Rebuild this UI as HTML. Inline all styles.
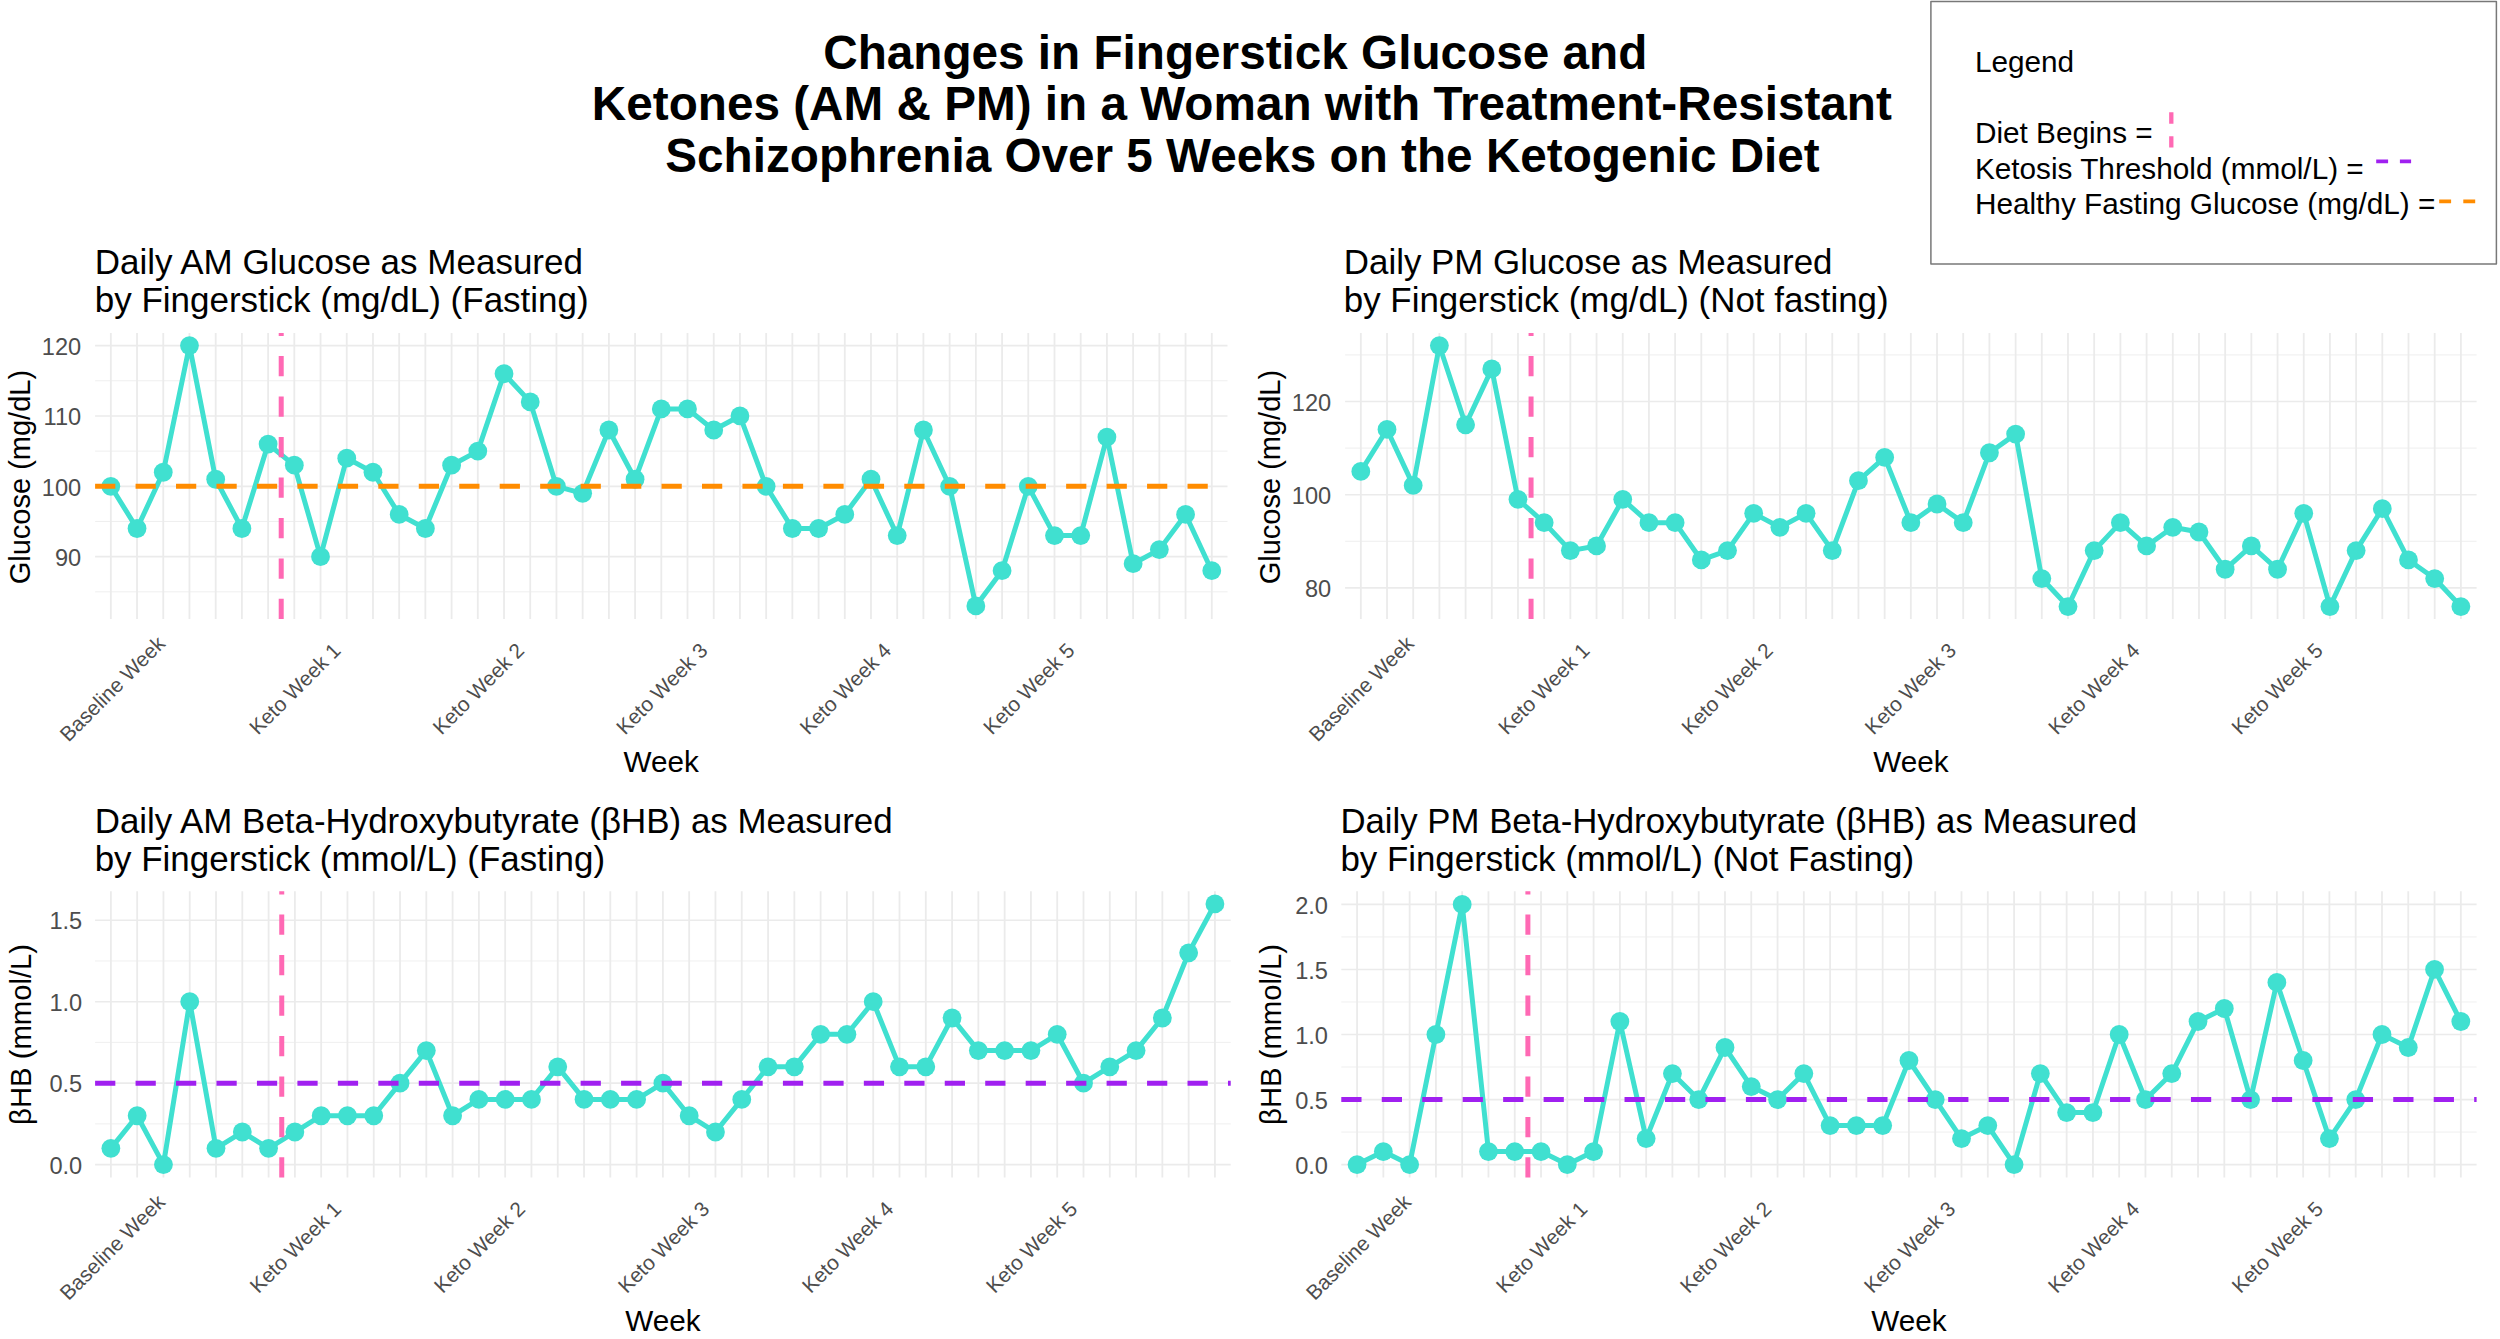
<!DOCTYPE html>
<html lang="en"><head><meta charset="utf-8">
<title>Changes in Fingerstick Glucose and Ketones on the Ketogenic Diet</title>
<style>html,body{margin:0;padding:0;background:#fff}svg{display:block}text{font-family:'Liberation Sans', Arial, Helvetica, sans-serif}</style>
</head><body>
<svg width="2500" height="1339" viewBox="0 0 2500 1339">
<rect width="2500" height="1339" fill="#fff"/>
<g font-size="47.7" font-weight="bold" text-anchor="middle">
<text x="1235.25" y="68.8">Changes in Fingerstick Glucose and</text>
<text x="1241.85" y="120.1">Ketones (AM &amp; PM) in a Woman with Treatment-Resistant</text>
<text x="1242.5" y="171.6">Schizophrenia Over 5 Weeks on the Ketogenic Diet</text>
</g>
<g>
<path d="M95.1 591.83H1227.5M95.1 521.48H1227.5M95.1 451.12H1227.5M95.1 380.77H1227.5" stroke="#EBEBEB" stroke-width="0.8" fill="none"/>
<path d="M110.83 333.1V619.1M137.04 333.1V619.1M163.25 333.1V619.1M189.47 333.1V619.1M215.68 333.1V619.1M241.89 333.1V619.1M268.11 333.1V619.1M294.32 333.1V619.1M320.53 333.1V619.1M346.74 333.1V619.1M372.96 333.1V619.1M399.17 333.1V619.1M425.38 333.1V619.1M451.6 333.1V619.1M477.81 333.1V619.1M504.02 333.1V619.1M530.24 333.1V619.1M556.45 333.1V619.1M582.66 333.1V619.1M608.87 333.1V619.1M635.09 333.1V619.1M661.3 333.1V619.1M687.51 333.1V619.1M713.73 333.1V619.1M739.94 333.1V619.1M766.15 333.1V619.1M792.36 333.1V619.1M818.58 333.1V619.1M844.79 333.1V619.1M871 333.1V619.1M897.22 333.1V619.1M923.43 333.1V619.1M949.64 333.1V619.1M975.86 333.1V619.1M1002.07 333.1V619.1M1028.28 333.1V619.1M1054.49 333.1V619.1M1080.71 333.1V619.1M1106.92 333.1V619.1M1133.13 333.1V619.1M1159.35 333.1V619.1M1185.56 333.1V619.1M1211.77 333.1V619.1" stroke="#EBEBEB" stroke-width="1.8" fill="none"/>
<path d="M95.1 556.65H1227.5M95.1 486.3H1227.5M95.1 415.95H1227.5M95.1 345.6H1227.5" stroke="#EBEBEB" stroke-width="1.6500000000000001" fill="none"/>
<polyline points="110.83,486.3 137.04,528.51 163.25,472.23 189.47,345.6 215.68,479.26 241.89,528.51 268.11,444.09 294.32,465.19 320.53,556.65 346.74,458.16 372.96,472.23 399.17,514.44 425.38,528.51 451.6,465.19 477.81,451.12 504.02,373.74 530.24,401.88 556.45,486.3 582.66,493.34 608.87,430.02 635.09,479.26 661.3,408.92 687.51,408.92 713.73,430.02 739.94,415.95 766.15,486.3 792.36,528.51 818.58,528.51 844.79,514.44 871,479.26 897.22,535.55 923.43,430.02 949.64,486.3 975.86,605.89 1002.07,570.72 1028.28,486.3 1054.49,535.55 1080.71,535.55 1106.92,437.06 1133.13,563.69 1159.35,549.62 1185.56,514.44 1211.77,570.72" fill="none" stroke="#40E0D0" stroke-width="5.0" stroke-linejoin="round" stroke-linecap="butt"/>
<g fill="#40E0D0">
<circle cx="110.83" cy="486.3" r="9.4"/>
<circle cx="137.04" cy="528.51" r="9.4"/>
<circle cx="163.25" cy="472.23" r="9.4"/>
<circle cx="189.47" cy="345.6" r="9.4"/>
<circle cx="215.68" cy="479.26" r="9.4"/>
<circle cx="241.89" cy="528.51" r="9.4"/>
<circle cx="268.11" cy="444.09" r="9.4"/>
<circle cx="294.32" cy="465.19" r="9.4"/>
<circle cx="320.53" cy="556.65" r="9.4"/>
<circle cx="346.74" cy="458.16" r="9.4"/>
<circle cx="372.96" cy="472.23" r="9.4"/>
<circle cx="399.17" cy="514.44" r="9.4"/>
<circle cx="425.38" cy="528.51" r="9.4"/>
<circle cx="451.6" cy="465.19" r="9.4"/>
<circle cx="477.81" cy="451.12" r="9.4"/>
<circle cx="504.02" cy="373.74" r="9.4"/>
<circle cx="530.24" cy="401.88" r="9.4"/>
<circle cx="556.45" cy="486.3" r="9.4"/>
<circle cx="582.66" cy="493.34" r="9.4"/>
<circle cx="608.87" cy="430.02" r="9.4"/>
<circle cx="635.09" cy="479.26" r="9.4"/>
<circle cx="661.3" cy="408.92" r="9.4"/>
<circle cx="687.51" cy="408.92" r="9.4"/>
<circle cx="713.73" cy="430.02" r="9.4"/>
<circle cx="739.94" cy="415.95" r="9.4"/>
<circle cx="766.15" cy="486.3" r="9.4"/>
<circle cx="792.36" cy="528.51" r="9.4"/>
<circle cx="818.58" cy="528.51" r="9.4"/>
<circle cx="844.79" cy="514.44" r="9.4"/>
<circle cx="871" cy="479.26" r="9.4"/>
<circle cx="897.22" cy="535.55" r="9.4"/>
<circle cx="923.43" cy="430.02" r="9.4"/>
<circle cx="949.64" cy="486.3" r="9.4"/>
<circle cx="975.86" cy="605.89" r="9.4"/>
<circle cx="1002.07" cy="570.72" r="9.4"/>
<circle cx="1028.28" cy="486.3" r="9.4"/>
<circle cx="1054.49" cy="535.55" r="9.4"/>
<circle cx="1080.71" cy="535.55" r="9.4"/>
<circle cx="1106.92" cy="437.06" r="9.4"/>
<circle cx="1133.13" cy="563.69" r="9.4"/>
<circle cx="1159.35" cy="549.62" r="9.4"/>
<circle cx="1185.56" cy="514.44" r="9.4"/>
<circle cx="1211.77" cy="570.72" r="9.4"/>
</g>
<path d="M95.1 486.3H1227.5" stroke="#FF8C00" stroke-width="5.0" stroke-dasharray="20.23 20.23" fill="none"/>
<path d="M281.21 619.1V333.1" stroke="#FF69B4" stroke-width="5.0" stroke-dasharray="20.23 20.23" fill="none"/>
<g font-size="23.6" fill="#4D4D4D" text-anchor="end">
<text x="81.2" y="565.85">90</text>
<text x="81.2" y="495.5">100</text>
<text x="81.2" y="425.15">110</text>
<text x="81.2" y="354.8">120</text>
</g>
<g font-size="20.8" fill="#4D4D4D" text-anchor="middle">
<text transform="translate(117.33 693.9) rotate(-45)">Baseline Week</text>
<text transform="translate(300.02 693.9) rotate(-45)">Keto Week 1</text>
<text transform="translate(483.51 693.9) rotate(-45)">Keto Week 2</text>
<text transform="translate(667 693.9) rotate(-45)">Keto Week 3</text>
<text transform="translate(850.49 693.9) rotate(-45)">Keto Week 4</text>
<text transform="translate(1033.98 693.9) rotate(-45)">Keto Week 5</text>
</g>
<text x="661.3" y="771.7" font-size="29.7" text-anchor="middle">Week</text>
<text transform="translate(30.1 477.1) rotate(-90)" font-size="29.0" text-anchor="middle">Glucose (mg/dL)</text>
<text x="94.7" y="273.9" font-size="35">Daily AM Glucose as Measured</text>
<text x="94.7" y="311.75" font-size="35">by Fingerstick (mg/dL) (Fasting)</text>
</g>
<g>
<path d="M1345.1 541.3H2476.6M1345.1 448.1H2476.6M1345.1 354.9H2476.6" stroke="#EBEBEB" stroke-width="0.8" fill="none"/>
<path d="M1360.82 333.1V619.1M1387.01 333.1V619.1M1413.2 333.1V619.1M1439.39 333.1V619.1M1465.58 333.1V619.1M1491.78 333.1V619.1M1517.97 333.1V619.1M1544.16 333.1V619.1M1570.35 333.1V619.1M1596.54 333.1V619.1M1622.74 333.1V619.1M1648.93 333.1V619.1M1675.12 333.1V619.1M1701.31 333.1V619.1M1727.51 333.1V619.1M1753.7 333.1V619.1M1779.89 333.1V619.1M1806.08 333.1V619.1M1832.27 333.1V619.1M1858.47 333.1V619.1M1884.66 333.1V619.1M1910.85 333.1V619.1M1937.04 333.1V619.1M1963.23 333.1V619.1M1989.43 333.1V619.1M2015.62 333.1V619.1M2041.81 333.1V619.1M2068 333.1V619.1M2094.19 333.1V619.1M2120.39 333.1V619.1M2146.58 333.1V619.1M2172.77 333.1V619.1M2198.96 333.1V619.1M2225.16 333.1V619.1M2251.35 333.1V619.1M2277.54 333.1V619.1M2303.73 333.1V619.1M2329.92 333.1V619.1M2356.12 333.1V619.1M2382.31 333.1V619.1M2408.5 333.1V619.1M2434.69 333.1V619.1M2460.88 333.1V619.1" stroke="#EBEBEB" stroke-width="1.8" fill="none"/>
<path d="M1345.1 587.9H2476.6M1345.1 494.7H2476.6M1345.1 401.5H2476.6" stroke="#EBEBEB" stroke-width="1.6500000000000001" fill="none"/>
<polyline points="1360.82,471.4 1387.01,429.46 1413.2,485.38 1439.39,345.58 1465.58,424.8 1491.78,368.88 1517.97,499.36 1544.16,522.66 1570.35,550.62 1596.54,545.96 1622.74,499.36 1648.93,522.66 1675.12,522.66 1701.31,559.94 1727.51,550.62 1753.7,513.34 1779.89,527.32 1806.08,513.34 1832.27,550.62 1858.47,480.72 1884.66,457.42 1910.85,522.66 1937.04,504.02 1963.23,522.66 1989.43,452.76 2015.62,434.12 2041.81,578.58 2068,606.54 2094.19,550.62 2120.39,522.66 2146.58,545.96 2172.77,527.32 2198.96,531.98 2225.16,569.26 2251.35,545.96 2277.54,569.26 2303.73,513.34 2329.92,606.54 2356.12,550.62 2382.31,508.68 2408.5,559.94 2434.69,578.58 2460.88,606.54" fill="none" stroke="#40E0D0" stroke-width="5.0" stroke-linejoin="round" stroke-linecap="butt"/>
<g fill="#40E0D0">
<circle cx="1360.82" cy="471.4" r="9.4"/>
<circle cx="1387.01" cy="429.46" r="9.4"/>
<circle cx="1413.2" cy="485.38" r="9.4"/>
<circle cx="1439.39" cy="345.58" r="9.4"/>
<circle cx="1465.58" cy="424.8" r="9.4"/>
<circle cx="1491.78" cy="368.88" r="9.4"/>
<circle cx="1517.97" cy="499.36" r="9.4"/>
<circle cx="1544.16" cy="522.66" r="9.4"/>
<circle cx="1570.35" cy="550.62" r="9.4"/>
<circle cx="1596.54" cy="545.96" r="9.4"/>
<circle cx="1622.74" cy="499.36" r="9.4"/>
<circle cx="1648.93" cy="522.66" r="9.4"/>
<circle cx="1675.12" cy="522.66" r="9.4"/>
<circle cx="1701.31" cy="559.94" r="9.4"/>
<circle cx="1727.51" cy="550.62" r="9.4"/>
<circle cx="1753.7" cy="513.34" r="9.4"/>
<circle cx="1779.89" cy="527.32" r="9.4"/>
<circle cx="1806.08" cy="513.34" r="9.4"/>
<circle cx="1832.27" cy="550.62" r="9.4"/>
<circle cx="1858.47" cy="480.72" r="9.4"/>
<circle cx="1884.66" cy="457.42" r="9.4"/>
<circle cx="1910.85" cy="522.66" r="9.4"/>
<circle cx="1937.04" cy="504.02" r="9.4"/>
<circle cx="1963.23" cy="522.66" r="9.4"/>
<circle cx="1989.43" cy="452.76" r="9.4"/>
<circle cx="2015.62" cy="434.12" r="9.4"/>
<circle cx="2041.81" cy="578.58" r="9.4"/>
<circle cx="2068" cy="606.54" r="9.4"/>
<circle cx="2094.19" cy="550.62" r="9.4"/>
<circle cx="2120.39" cy="522.66" r="9.4"/>
<circle cx="2146.58" cy="545.96" r="9.4"/>
<circle cx="2172.77" cy="527.32" r="9.4"/>
<circle cx="2198.96" cy="531.98" r="9.4"/>
<circle cx="2225.16" cy="569.26" r="9.4"/>
<circle cx="2251.35" cy="545.96" r="9.4"/>
<circle cx="2277.54" cy="569.26" r="9.4"/>
<circle cx="2303.73" cy="513.34" r="9.4"/>
<circle cx="2329.92" cy="606.54" r="9.4"/>
<circle cx="2356.12" cy="550.62" r="9.4"/>
<circle cx="2382.31" cy="508.68" r="9.4"/>
<circle cx="2408.5" cy="559.94" r="9.4"/>
<circle cx="2434.69" cy="578.58" r="9.4"/>
<circle cx="2460.88" cy="606.54" r="9.4"/>
</g>
<path d="M1531.06 619.1V333.1" stroke="#FF69B4" stroke-width="5.0" stroke-dasharray="20.23 20.23" fill="none"/>
<g font-size="23.6" fill="#4D4D4D" text-anchor="end">
<text x="1331.2" y="597.1">80</text>
<text x="1331.2" y="503.9">100</text>
<text x="1331.2" y="410.7">120</text>
</g>
<g font-size="20.8" fill="#4D4D4D" text-anchor="middle">
<text transform="translate(1366.32 693.9) rotate(-45)">Baseline Week</text>
<text transform="translate(1548.86 693.9) rotate(-45)">Keto Week 1</text>
<text transform="translate(1732.21 693.9) rotate(-45)">Keto Week 2</text>
<text transform="translate(1915.55 693.9) rotate(-45)">Keto Week 3</text>
<text transform="translate(2098.89 693.9) rotate(-45)">Keto Week 4</text>
<text transform="translate(2282.24 693.9) rotate(-45)">Keto Week 5</text>
</g>
<text x="1910.85" y="771.7" font-size="29.7" text-anchor="middle">Week</text>
<text transform="translate(1280.1 477.1) rotate(-90)" font-size="29.0" text-anchor="middle">Glucose (mg/dL)</text>
<text x="1343.8" y="273.9" font-size="34.9">Daily PM Glucose as Measured</text>
<text x="1343.8" y="311.75" font-size="34.9">by Fingerstick (mg/dL) (Not fasting)</text>
</g>
<g>
<path d="M95.1 1123.88H1230.7M95.1 1042.42H1230.7M95.1 960.97H1230.7" stroke="#EBEBEB" stroke-width="0.8" fill="none"/>
<path d="M110.87 891.2V1177.6M137.16 891.2V1177.6M163.45 891.2V1177.6M189.73 891.2V1177.6M216.02 891.2V1177.6M242.31 891.2V1177.6M268.59 891.2V1177.6M294.88 891.2V1177.6M321.17 891.2V1177.6M347.46 891.2V1177.6M373.74 891.2V1177.6M400.03 891.2V1177.6M426.32 891.2V1177.6M452.6 891.2V1177.6M478.89 891.2V1177.6M505.18 891.2V1177.6M531.46 891.2V1177.6M557.75 891.2V1177.6M584.04 891.2V1177.6M610.33 891.2V1177.6M636.61 891.2V1177.6M662.9 891.2V1177.6M689.19 891.2V1177.6M715.47 891.2V1177.6M741.76 891.2V1177.6M768.05 891.2V1177.6M794.34 891.2V1177.6M820.62 891.2V1177.6M846.91 891.2V1177.6M873.2 891.2V1177.6M899.48 891.2V1177.6M925.77 891.2V1177.6M952.06 891.2V1177.6M978.34 891.2V1177.6M1004.63 891.2V1177.6M1030.92 891.2V1177.6M1057.21 891.2V1177.6M1083.49 891.2V1177.6M1109.78 891.2V1177.6M1136.07 891.2V1177.6M1162.35 891.2V1177.6M1188.64 891.2V1177.6M1214.93 891.2V1177.6" stroke="#EBEBEB" stroke-width="1.8" fill="none"/>
<path d="M95.1 1164.6H1230.7M95.1 1083.15H1230.7M95.1 1001.7H1230.7M95.1 920.25H1230.7" stroke="#EBEBEB" stroke-width="1.6500000000000001" fill="none"/>
<polyline points="110.87,1148.31 137.16,1115.73 163.45,1164.6 189.73,1001.7 216.02,1148.31 242.31,1132.02 268.59,1148.31 294.88,1132.02 321.17,1115.73 347.46,1115.73 373.74,1115.73 400.03,1083.15 426.32,1050.57 452.6,1115.73 478.89,1099.44 505.18,1099.44 531.46,1099.44 557.75,1066.86 584.04,1099.44 610.33,1099.44 636.61,1099.44 662.9,1083.15 689.19,1115.73 715.47,1132.02 741.76,1099.44 768.05,1066.86 794.34,1066.86 820.62,1034.28 846.91,1034.28 873.2,1001.7 899.48,1066.86 925.77,1066.86 952.06,1017.99 978.34,1050.57 1004.63,1050.57 1030.92,1050.57 1057.21,1034.28 1083.49,1083.15 1109.78,1066.86 1136.07,1050.57 1162.35,1017.99 1188.64,952.83 1214.93,903.96" fill="none" stroke="#40E0D0" stroke-width="5.0" stroke-linejoin="round" stroke-linecap="butt"/>
<g fill="#40E0D0">
<circle cx="110.87" cy="1148.31" r="9.4"/>
<circle cx="137.16" cy="1115.73" r="9.4"/>
<circle cx="163.45" cy="1164.6" r="9.4"/>
<circle cx="189.73" cy="1001.7" r="9.4"/>
<circle cx="216.02" cy="1148.31" r="9.4"/>
<circle cx="242.31" cy="1132.02" r="9.4"/>
<circle cx="268.59" cy="1148.31" r="9.4"/>
<circle cx="294.88" cy="1132.02" r="9.4"/>
<circle cx="321.17" cy="1115.73" r="9.4"/>
<circle cx="347.46" cy="1115.73" r="9.4"/>
<circle cx="373.74" cy="1115.73" r="9.4"/>
<circle cx="400.03" cy="1083.15" r="9.4"/>
<circle cx="426.32" cy="1050.57" r="9.4"/>
<circle cx="452.6" cy="1115.73" r="9.4"/>
<circle cx="478.89" cy="1099.44" r="9.4"/>
<circle cx="505.18" cy="1099.44" r="9.4"/>
<circle cx="531.46" cy="1099.44" r="9.4"/>
<circle cx="557.75" cy="1066.86" r="9.4"/>
<circle cx="584.04" cy="1099.44" r="9.4"/>
<circle cx="610.33" cy="1099.44" r="9.4"/>
<circle cx="636.61" cy="1099.44" r="9.4"/>
<circle cx="662.9" cy="1083.15" r="9.4"/>
<circle cx="689.19" cy="1115.73" r="9.4"/>
<circle cx="715.47" cy="1132.02" r="9.4"/>
<circle cx="741.76" cy="1099.44" r="9.4"/>
<circle cx="768.05" cy="1066.86" r="9.4"/>
<circle cx="794.34" cy="1066.86" r="9.4"/>
<circle cx="820.62" cy="1034.28" r="9.4"/>
<circle cx="846.91" cy="1034.28" r="9.4"/>
<circle cx="873.2" cy="1001.7" r="9.4"/>
<circle cx="899.48" cy="1066.86" r="9.4"/>
<circle cx="925.77" cy="1066.86" r="9.4"/>
<circle cx="952.06" cy="1017.99" r="9.4"/>
<circle cx="978.34" cy="1050.57" r="9.4"/>
<circle cx="1004.63" cy="1050.57" r="9.4"/>
<circle cx="1030.92" cy="1050.57" r="9.4"/>
<circle cx="1057.21" cy="1034.28" r="9.4"/>
<circle cx="1083.49" cy="1083.15" r="9.4"/>
<circle cx="1109.78" cy="1066.86" r="9.4"/>
<circle cx="1136.07" cy="1050.57" r="9.4"/>
<circle cx="1162.35" cy="1017.99" r="9.4"/>
<circle cx="1188.64" cy="952.83" r="9.4"/>
<circle cx="1214.93" cy="903.96" r="9.4"/>
</g>
<path d="M95.1 1083.15H1230.7" stroke="#A020F0" stroke-width="5.0" stroke-dasharray="20.23 20.23" fill="none"/>
<path d="M281.74 1177.6V891.2" stroke="#FF69B4" stroke-width="5.0" stroke-dasharray="20.23 20.23" fill="none"/>
<g font-size="23.6" fill="#4D4D4D" text-anchor="end">
<text x="82.2" y="1173.8">0.0</text>
<text x="82.2" y="1092.35">0.5</text>
<text x="82.2" y="1010.9">1.0</text>
<text x="82.2" y="929.45">1.5</text>
</g>
<g font-size="20.8" fill="#4D4D4D" text-anchor="middle">
<text transform="translate(117.37 1252.4) rotate(-45)">Baseline Week</text>
<text transform="translate(300.58 1252.4) rotate(-45)">Keto Week 1</text>
<text transform="translate(484.59 1252.4) rotate(-45)">Keto Week 2</text>
<text transform="translate(668.6 1252.4) rotate(-45)">Keto Week 3</text>
<text transform="translate(852.61 1252.4) rotate(-45)">Keto Week 4</text>
<text transform="translate(1036.62 1252.4) rotate(-45)">Keto Week 5</text>
</g>
<text x="662.9" y="1330.8" font-size="29.7" text-anchor="middle">Week</text>
<text transform="translate(30.6 1034.4) rotate(-90)" font-size="29.25" text-anchor="middle">βHB (mmol/L)</text>
<text x="94.7" y="832.7" font-size="34.92">Daily AM Beta-Hydroxybutyrate (βHB) as Measured</text>
<text x="94.7" y="870.55" font-size="34.93">by Fingerstick (mmol/L) (Fasting)</text>
</g>
<g>
<path d="M1341.3 1132.07H2476.6M1341.3 1067.02H2476.6M1341.3 1001.97H2476.6M1341.3 936.92H2476.6" stroke="#EBEBEB" stroke-width="0.8" fill="none"/>
<path d="M1357.07 891.2V1177.6M1383.35 891.2V1177.6M1409.63 891.2V1177.6M1435.91 891.2V1177.6M1462.19 891.2V1177.6M1488.47 891.2V1177.6M1514.75 891.2V1177.6M1541.03 891.2V1177.6M1567.31 891.2V1177.6M1593.59 891.2V1177.6M1619.87 891.2V1177.6M1646.15 891.2V1177.6M1672.43 891.2V1177.6M1698.71 891.2V1177.6M1724.99 891.2V1177.6M1751.27 891.2V1177.6M1777.55 891.2V1177.6M1803.83 891.2V1177.6M1830.11 891.2V1177.6M1856.39 891.2V1177.6M1882.67 891.2V1177.6M1908.95 891.2V1177.6M1935.23 891.2V1177.6M1961.51 891.2V1177.6M1987.79 891.2V1177.6M2014.07 891.2V1177.6M2040.35 891.2V1177.6M2066.63 891.2V1177.6M2092.91 891.2V1177.6M2119.19 891.2V1177.6M2145.47 891.2V1177.6M2171.75 891.2V1177.6M2198.03 891.2V1177.6M2224.31 891.2V1177.6M2250.59 891.2V1177.6M2276.87 891.2V1177.6M2303.15 891.2V1177.6M2329.43 891.2V1177.6M2355.71 891.2V1177.6M2381.99 891.2V1177.6M2408.27 891.2V1177.6M2434.55 891.2V1177.6M2460.83 891.2V1177.6" stroke="#EBEBEB" stroke-width="1.8" fill="none"/>
<path d="M1341.3 1164.6H2476.6M1341.3 1099.55H2476.6M1341.3 1034.5H2476.6M1341.3 969.45H2476.6M1341.3 904.4H2476.6" stroke="#EBEBEB" stroke-width="1.6500000000000001" fill="none"/>
<polyline points="1357.07,1164.6 1383.35,1151.59 1409.63,1164.6 1435.91,1034.5 1462.19,904.4 1488.47,1151.59 1514.75,1151.59 1541.03,1151.59 1567.31,1164.6 1593.59,1151.59 1619.87,1021.49 1646.15,1138.58 1672.43,1073.53 1698.71,1099.55 1724.99,1047.51 1751.27,1086.54 1777.55,1099.55 1803.83,1073.53 1830.11,1125.57 1856.39,1125.57 1882.67,1125.57 1908.95,1060.52 1935.23,1099.55 1961.51,1138.58 1987.79,1125.57 2014.07,1164.6 2040.35,1073.53 2066.63,1112.56 2092.91,1112.56 2119.19,1034.5 2145.47,1099.55 2171.75,1073.53 2198.03,1021.49 2224.31,1008.48 2250.59,1099.55 2276.87,982.46 2303.15,1060.52 2329.43,1138.58 2355.71,1099.55 2381.99,1034.5 2408.27,1047.51 2434.55,969.45 2460.83,1021.49" fill="none" stroke="#40E0D0" stroke-width="5.0" stroke-linejoin="round" stroke-linecap="butt"/>
<g fill="#40E0D0">
<circle cx="1357.07" cy="1164.6" r="9.4"/>
<circle cx="1383.35" cy="1151.59" r="9.4"/>
<circle cx="1409.63" cy="1164.6" r="9.4"/>
<circle cx="1435.91" cy="1034.5" r="9.4"/>
<circle cx="1462.19" cy="904.4" r="9.4"/>
<circle cx="1488.47" cy="1151.59" r="9.4"/>
<circle cx="1514.75" cy="1151.59" r="9.4"/>
<circle cx="1541.03" cy="1151.59" r="9.4"/>
<circle cx="1567.31" cy="1164.6" r="9.4"/>
<circle cx="1593.59" cy="1151.59" r="9.4"/>
<circle cx="1619.87" cy="1021.49" r="9.4"/>
<circle cx="1646.15" cy="1138.58" r="9.4"/>
<circle cx="1672.43" cy="1073.53" r="9.4"/>
<circle cx="1698.71" cy="1099.55" r="9.4"/>
<circle cx="1724.99" cy="1047.51" r="9.4"/>
<circle cx="1751.27" cy="1086.54" r="9.4"/>
<circle cx="1777.55" cy="1099.55" r="9.4"/>
<circle cx="1803.83" cy="1073.53" r="9.4"/>
<circle cx="1830.11" cy="1125.57" r="9.4"/>
<circle cx="1856.39" cy="1125.57" r="9.4"/>
<circle cx="1882.67" cy="1125.57" r="9.4"/>
<circle cx="1908.95" cy="1060.52" r="9.4"/>
<circle cx="1935.23" cy="1099.55" r="9.4"/>
<circle cx="1961.51" cy="1138.58" r="9.4"/>
<circle cx="1987.79" cy="1125.57" r="9.4"/>
<circle cx="2014.07" cy="1164.6" r="9.4"/>
<circle cx="2040.35" cy="1073.53" r="9.4"/>
<circle cx="2066.63" cy="1112.56" r="9.4"/>
<circle cx="2092.91" cy="1112.56" r="9.4"/>
<circle cx="2119.19" cy="1034.5" r="9.4"/>
<circle cx="2145.47" cy="1099.55" r="9.4"/>
<circle cx="2171.75" cy="1073.53" r="9.4"/>
<circle cx="2198.03" cy="1021.49" r="9.4"/>
<circle cx="2224.31" cy="1008.48" r="9.4"/>
<circle cx="2250.59" cy="1099.55" r="9.4"/>
<circle cx="2276.87" cy="982.46" r="9.4"/>
<circle cx="2303.15" cy="1060.52" r="9.4"/>
<circle cx="2329.43" cy="1138.58" r="9.4"/>
<circle cx="2355.71" cy="1099.55" r="9.4"/>
<circle cx="2381.99" cy="1034.5" r="9.4"/>
<circle cx="2408.27" cy="1047.51" r="9.4"/>
<circle cx="2434.55" cy="969.45" r="9.4"/>
<circle cx="2460.83" cy="1021.49" r="9.4"/>
</g>
<path d="M1341.3 1099.55H2476.6" stroke="#A020F0" stroke-width="5.0" stroke-dasharray="20.23 20.23" fill="none"/>
<path d="M1527.89 1177.6V891.2" stroke="#FF69B4" stroke-width="5.0" stroke-dasharray="20.23 20.23" fill="none"/>
<g font-size="23.6" fill="#4D4D4D" text-anchor="end">
<text x="1328" y="1173.8">0.0</text>
<text x="1328" y="1108.75">0.5</text>
<text x="1328" y="1043.7">1.0</text>
<text x="1328" y="978.65">1.5</text>
<text x="1328" y="913.6">2.0</text>
</g>
<g font-size="20.8" fill="#4D4D4D" text-anchor="middle">
<text transform="translate(1363.57 1252.4) rotate(-45)">Baseline Week</text>
<text transform="translate(1546.73 1252.4) rotate(-45)">Keto Week 1</text>
<text transform="translate(1730.69 1252.4) rotate(-45)">Keto Week 2</text>
<text transform="translate(1914.65 1252.4) rotate(-45)">Keto Week 3</text>
<text transform="translate(2098.61 1252.4) rotate(-45)">Keto Week 4</text>
<text transform="translate(2282.57 1252.4) rotate(-45)">Keto Week 5</text>
</g>
<text x="1908.95" y="1330.8" font-size="29.7" text-anchor="middle">Week</text>
<text transform="translate(1280.6 1034.4) rotate(-90)" font-size="29.25" text-anchor="middle">βHB (mmol/L)</text>
<text x="1340.4" y="832.7" font-size="34.77">Daily PM Beta-Hydroxybutyrate (βHB) as Measured</text>
<text x="1340.4" y="870.55" font-size="34.88">by Fingerstick (mmol/L) (Not Fasting)</text>
</g>
<g>
<rect x="1930.9" y="1.4" width="565.5" height="262.5" fill="#fff" stroke="#787878" stroke-width="1.5" stroke-linejoin="round"/>
<g font-size="29.75">
<text x="1974.9" y="71.9">Legend</text>
<text x="1974.9" y="143.1">Diet Begins =</text>
<text x="1974.9" y="178.7">Ketosis Threshold (mmol/L) =</text>
<text x="1974.9" y="214.3">Healthy Fasting Glucose (mg/dL) =</text>
</g>
<path d="M2171.3 112.2V123.8M2171.3 136.3V147.6" stroke="#FF69B4" stroke-width="4.3" fill="none"/>
<path d="M2376.2 161.4H2388.1M2399.9 161.4H2411.1" stroke="#A020F0" stroke-width="3.9" fill="none"/>
<path d="M2439.2 201.4H2451.1M2463.3 201.4H2475.2" stroke="#FF8C00" stroke-width="3.9" fill="none"/>
</g>
</svg>
</body></html>
